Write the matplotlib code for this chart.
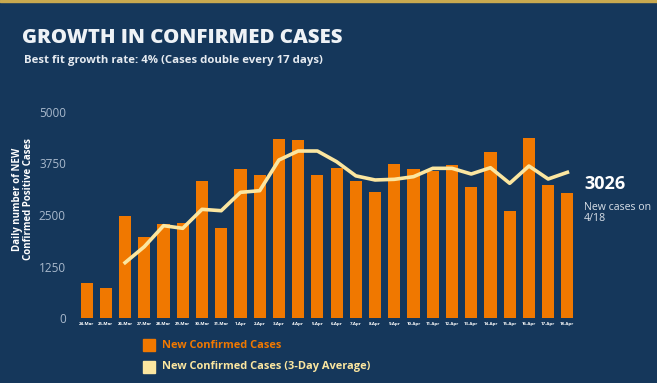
import numpy as np
import matplotlib.pyplot as plt
from matplotlib.patches import Rectangle

dates = ['24-Mar', '25-Mar', '26-Mar', '27-Mar', '28-Mar', '29-Mar', '30-Mar', '31-Mar',
         '1-Apr', '2-Apr', '3-Apr', '4-Apr', '5-Apr', '6-Apr', '7-Apr', '8-Apr', '9-Apr',
         '10-Apr', '11-Apr', '12-Apr', '13-Apr', '14-Apr', '15-Apr', '16-Apr', '17-Apr', '18-Apr']
new_cases = [842, 721, 2476, 1958, 2274, 2298, 3325, 2177, 3624, 3471, 4345, 4313, 3463,
             3648, 3333, 3066, 3730, 3608, 3576, 3713, 3187, 4036, 2604, 4369, 3228, 3026]
# 3-day average starts on 26-Mar
avg_3day = [1343, 1731, 2241, 2177, 2638, 2604, 3050, 3090, 3835, 4053, 4053, 3794,
            3450, 3350, 3366, 3430, 3633, 3633, 3495, 3648, 3269, 3689, 3374, 3536]
yticks = [0, 1250, 2500, 3750, 5000]

BG = '#15375b'
ORANGE = '#f07800'
YELLOW = '#fbe6a0'
TICK = '#a9b9cc'

W, H = 657, 383
fig = plt.figure(figsize=(W / 100, H / 100), dpi=100, facecolor=BG)
plt.rcParams['font.family'] = ['Open Sans', 'DejaVu Sans']

def px(x0, y0, x1, y1):
    return [x0 / W, 1 - y1 / H, (x1 - x0) / W, (y1 - y0) / H]

ax = fig.add_axes(px(77, 112, 577, 318))
ax.set_facecolor(BG)
x = np.arange(len(dates))
ax.bar(x, new_cases, width=0.63, color=ORANGE, zorder=2)
ax.plot(x[2:], avg_3day, color=YELLOW, lw=2.6, zorder=3, solid_joinstyle='round')

ax.set_xlim(-0.5, len(dates) - 0.5)
ax.set_ylim(0, 5000)
ax.set_yticks(yticks)
ax.set_yticklabels([str(v) for v in yticks], color=TICK, fontsize=8.5)
ax.set_xticks(x)
ax.set_xticklabels(dates, color='white', fontsize=3.2, fontweight='bold')
ax.tick_params(axis='both', length=0)
ax.tick_params(axis='y', pad=8)
ax.tick_params(axis='x', pad=3)
for s in ax.spines.values():
    s.set_visible(False)

fig.text(22 / W, 1 - 38 / H, 'GROWTH IN CONFIRMED CASES', color='#eef2f6',
         fontsize=14.7, fontweight='heavy', va='center', ha='left')
fig.text(24 / W, 1 - 61 / H, 'Best fit growth rate: 4% (Cases double every 17 days)',
         color='#e6ebf1', fontsize=8.2, fontweight='bold', va='center', ha='left')
fig.text(23 / W, 1 - 199 / H, 'Daily number of NEW\nConfirmed Positive Cases',
         color='white', fontsize=7, fontweight='bold', rotation=90,
         ha='center', va='center', multialignment='center', linespacing=1.0)

fig.text(584 / W, 1 - 184 / H, '3026', color='white', fontsize=13,
         fontweight='bold', va='center', ha='left')
fig.text(584 / W, 1 - 202 / H, 'New cases on\n4/18', color='#d9e0e8', fontsize=7.6,
         va='top', ha='left', linespacing=1.0)

# legend
for yy, col, lab in [(345, ORANGE, 'New Confirmed Cases'),
                     (367, YELLOW, 'New Confirmed Cases (3-Day Average)')]:
    fig.patches.append(Rectangle((143 / W, 1 - (yy + 6) / H), 12 / W, 12 / H,
                                 transform=fig.transFigure, color=col))
    fig.text(162 / W, 1 - yy / H, lab, color=col, fontsize=7.9,
             fontweight='bold', va='center', ha='left')

# thin gold strip at top
fig.patches.append(Rectangle((0, 1 - 2 / H), 1, 2 / H, transform=fig.transFigure,
                             color='#c9a94f'))

fig.savefig('out.png', dpi=100, facecolor=BG)
